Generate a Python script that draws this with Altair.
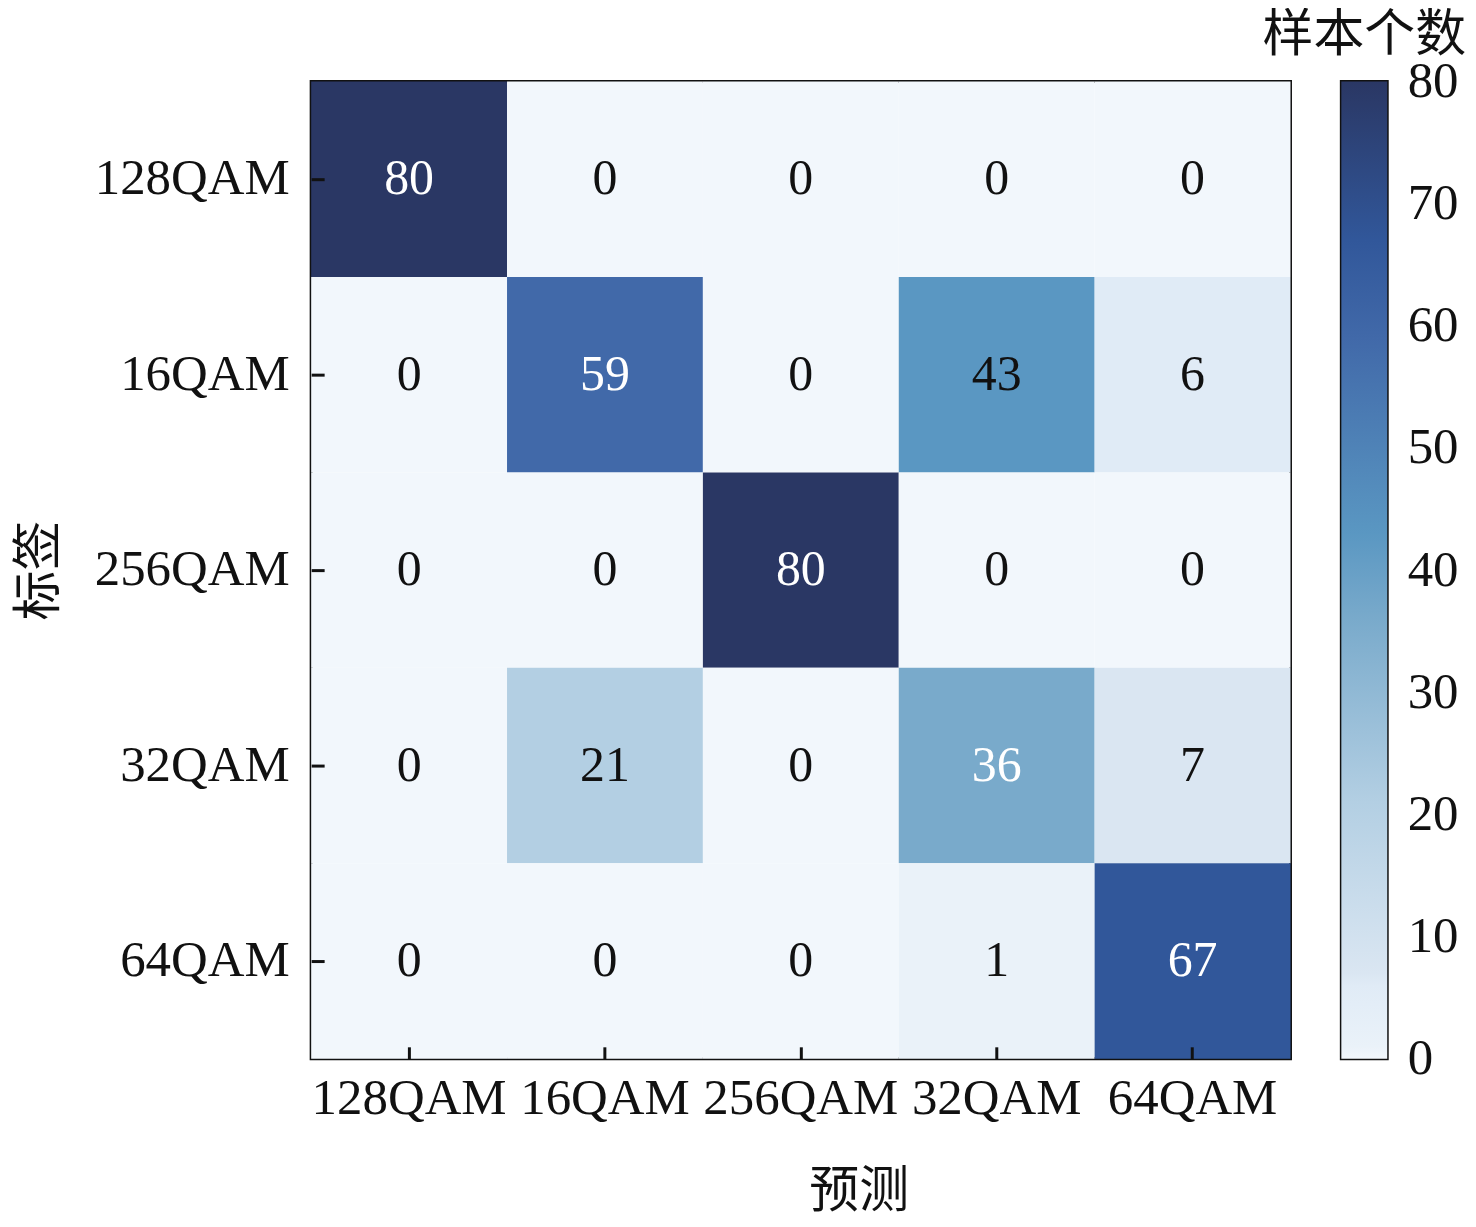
import altair as alt
import pandas as pd

labels = ["128QAM", "16QAM", "256QAM", "32QAM", "64QAM"]
matrix = [
    [80, 0, 0, 0, 0],
    [0, 59, 0, 43, 6],
    [0, 0, 80, 0, 0],
    [0, 21, 0, 36, 7],
    [0, 0, 0, 1, 67],
]
# cells whose number is printed in white in the original
white_cells = [(0, 0), (1, 1), (2, 2), (3, 3), (4, 4)]

# colour ramp (value -> colour)
ramp_values = [0, 1, 6, 7, 21, 36, 43, 59, 67, 80]
ramp_colors = ["#f2f7fc", "#eaf2f9", "#e0ebf6", "#dae6f2", "#b3cfe3",
               "#79aacb", "#5a97c2", "#4169a9", "#31579a", "#2a3764"]
cbar_ticks = [0, 10, 20, 30, 40, 50, 60, 70, 80]

FONT = "Liberation Serif, Times New Roman, Noto Sans CJK SC"

rows = []
for i, true_lab in enumerate(labels):
    for j, pred_lab in enumerate(labels):
        rows.append({
            "标签": true_lab,
            "预测": pred_lab,
            "count": matrix[i][j],
            "white": (i, j) in white_cells,
        })
df = pd.DataFrame(rows)

color_scale = alt.Scale(domain=ramp_values, range=ramp_colors, type="linear",
                        interpolate="rgb")

base = alt.Chart(df).encode(
    x=alt.X("预测:N", sort=labels, title="预测",
            axis=alt.Axis(labelAngle=0, tickSize=12, offset=-12, domain=False,
                          labelPadding=15, labelFontSize=51, titleFontSize=50,
                          titlePadding=43, titleX=549, labelFont=FONT, titleFont=FONT,
                          labelColor="#111", titleColor="#111", tickColor="#111",
                          tickWidth=3, titleFontWeight="normal", labelLimit=0)),
    y=alt.Y("标签:N", sort=labels, title="标签",
            axis=alt.Axis(tickSize=13, offset=-13, domain=False,
                          labelPadding=22, labelFontSize=51, titleFontSize=50,
                          titlePadding=60, labelFont=FONT, titleFont=FONT,
                          labelColor="#111", titleColor="#111", tickColor="#111",
                          tickWidth=3, titleFontWeight="normal", labelLimit=0)),
)

heat = base.mark_rect().encode(
    color=alt.Color("count:Q", scale=color_scale, legend=None)
)
txt = base.mark_text(fontSize=50, font=FONT).encode(
    text="count:Q",
    color=alt.condition(alt.datum.white, alt.value("white"), alt.value("#111")),
)
heatmap = alt.layer(heat, txt).properties(width=982, height=980)

stops = [alt.GradientStop(offset=v / 80, color=c)
         for v, c in zip(ramp_values, ramp_colors)]
cbar_df = pd.DataFrame({"lo": [0], "hi": [80]})
cbar = alt.Chart(cbar_df).mark_rect(
    color=alt.Gradient(gradient="linear", stops=stops, x1=0, x2=0, y1=1, y2=0)
).encode(
    y=alt.Y("lo:Q", scale=alt.Scale(domain=[0, 80], nice=False),
            axis=alt.Axis(orient="right", values=cbar_ticks, tickSize=12,
                          offset=-12, domain=False, labelPadding=20,
                          labelFontSize=51, labelFont=FONT, labelColor="#111",
                          tickColor="#111", tickWidth=3, labelFlush=False,
                          tickOpacity={"condition": {"test": "datum.value == 0 || datum.value == 80",
                                                     "value": 0}, "value": 1},
                          grid=False, title=None, labelLimit=0)),
    y2="hi:Q",
).properties(
    width=46, height=980,
    title=alt.TitleParams("样本个数", fontSize=51, font=FONT, fontWeight="normal",
                          color="#111", anchor="middle", offset=-6),
)

chart = alt.hconcat(heatmap, cbar, spacing=51, bounds="flush").properties(
    padding={"top": -2, "left": 5, "right": 0, "bottom": 0}
).configure_view(
    stroke="#111", strokeWidth=3
).configure_axis(grid=False)

chart.save("out.html", embed_options={"renderer": "svg", "actions": False})
